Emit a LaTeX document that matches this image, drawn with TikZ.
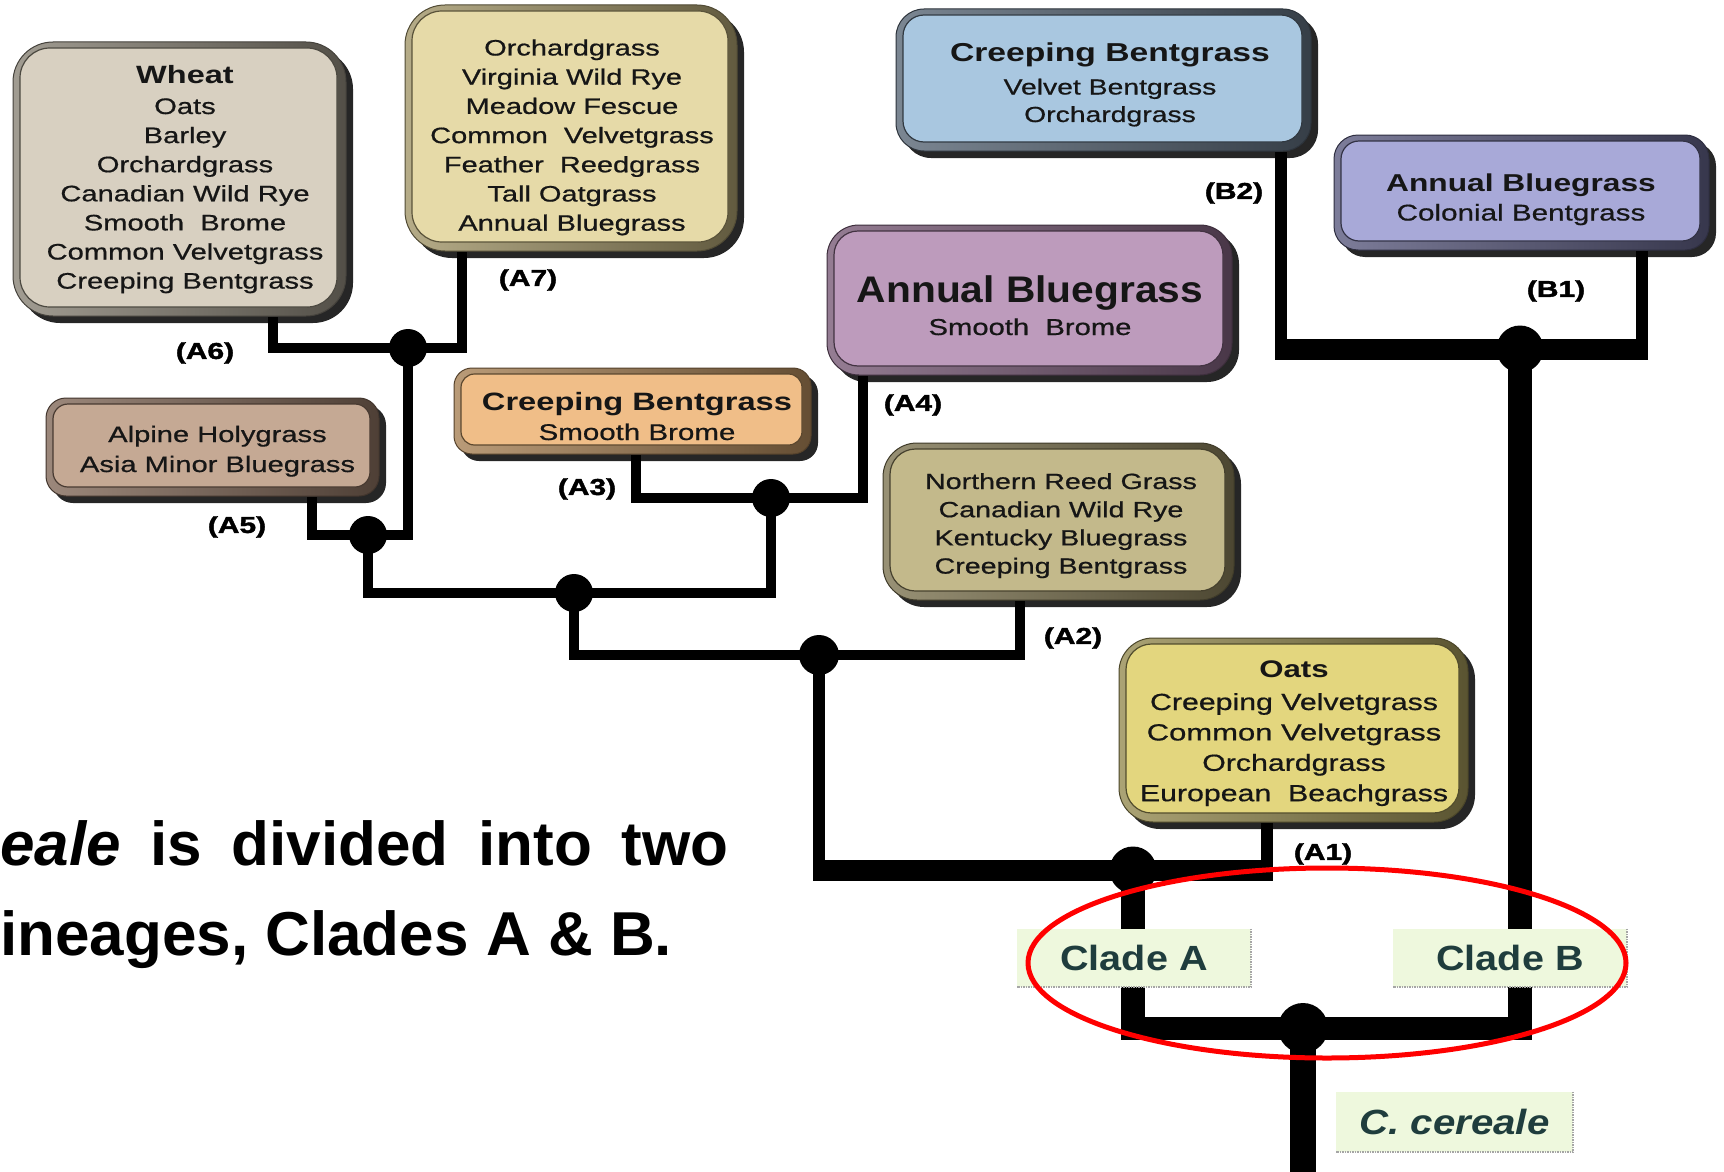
\documentclass[tikz,border=0pt]{standalone}
\usepackage{fontspec}
\setmainfont{Liberation Sans}
\newfontfamily\itemfont[FakeBold=0.6]{Liberation Sans}
\newfontfamily\tagfont[FakeBold=1.6]{Liberation Sans Bold}
\usepackage{graphicx}
\usetikzlibrary{shadows}

% box faces (F) and rims (R)
\definecolor{ink}{HTML}{161616}
\definecolor{wheatF}{HTML}{D8D0C1}\definecolor{wheatR}{HTML}{8A8477}
\definecolor{a7F}{HTML}{E6DAA8}\definecolor{a7R}{HTML}{A3976A}
\definecolor{b2F}{HTML}{A9C7E0}\definecolor{b2R}{HTML}{5A6877}
\definecolor{b1F}{HTML}{A8A9D8}\definecolor{b1R}{HTML}{5C5C80}
\definecolor{a4F}{HTML}{BD9BBC}\definecolor{a4R}{HTML}{7A5C78}
\definecolor{a3F}{HTML}{F0BE88}\definecolor{a3R}{HTML}{A88256}
\definecolor{a5F}{HTML}{C5A994}\definecolor{a5R}{HTML}{836A5A}
\definecolor{a2F}{HTML}{C3B98B}\definecolor{a2R}{HTML}{7F7653}
\definecolor{a1F}{HTML}{E3D67E}\definecolor{a1R}{HTML}{968C52}
\definecolor{cladeBg}{HTML}{EEF8DD}
\definecolor{cladeInk}{HTML}{1F3D3D}

\pgfdeclarelayer{bg}
\pgfsetlayers{bg,main}

% one line of a box: horizontal stretch, size, text
\newcommand\hdr[3]{\scalebox{#1}[1]{\fontsize{#2}{#2}\selectfont\bfseries #3}}
\newcommand\itm[3]{\scalebox{#1}[1]{\itemfont\fontsize{#2}{#2}\selectfont #3}}
% a centred stack of lines with a fixed pitch
\newcommand\rows[2]{\fontsize{10}{#1}\selectfont\begin{tabular}[t]{@{}c@{}}#2\end{tabular}}
\newcommand\sx[2]{\scalebox{#1}[1]{#2}}

\tikzset{
  plate/.style n args={5}{
    rectangle, inner sep=0pt, rounded corners=#5,
    minimum width=#3, minimum height=#4,
    draw=#2!50!black, line width=1pt,
    left color=#2!80!white, right color=#2!60!black,
    drop shadow={shadow xshift=7pt, shadow yshift=-7pt, fill=black, opacity=0.85},
    path picture={
      \path[fill=#1, draw=#2!55!black, line width=1.2pt, rounded corners=0.75*#5]
        ([xshift=7pt, yshift=-6pt]path picture bounding box.north west)
        rectangle ([xshift=-9pt, yshift=9pt]path picture bounding box.south east);
    },
  },
  txt/.style={anchor=base, inner sep=0pt, text=ink},
  lab/.style={inner sep=0pt, text=black, font=\tagfont\fontsize{23}{23}\selectfont},
  jdot/.style={circle, fill=black, inner sep=0pt, minimum size=#1},
  twig/.style={line width=10pt, line join=miter},
  limb/.style={line width=12pt},
  bough/.style={line width=21pt},
  trunk/.style={line width=24pt},
  trunkh/.style={line width=23pt},
  stemline/.style={line width=26pt},
  clade/.style={fill=cladeBg, inner sep=0pt, minimum width=234pt, minimum height=58pt,
    text=cladeInk, font=\bfseries\fontsize{35}{35}\selectfont},
  cladeedge/.style={densely dotted, gray!70, line width=1.5pt},
  caption/.style={anchor=base west, inner sep=0pt, text=black,
    font=\bfseries\fontsize{62}{62}\selectfont},
}

\begin{document}
\begin{tikzpicture}[x=1pt, y=-1pt]
\useasboundingbox (0,0) rectangle (1724,1172);

% ---- boxes ----
\node[plate={wheatF}{wheatR}{333pt}{274pt}{40pt}] (wheat) at (179.5,179) {};
\node[plate={a7F}{a7R}{332pt}{246pt}{40pt}] (a7) at (571,128) {};
\node[plate={b2F}{b2R}{415pt}{142pt}{28pt}] (b2) at (1103.5,80) {};
\node[plate={b1F}{b1R}{375pt}{115pt}{24pt}] (b1) at (1521.5,192.5) {};
\node[plate={a4F}{a4R}{405pt}{150pt}{32pt}] (a4) at (1029.5,300) {};
\node[plate={a3F}{a3R}{357pt}{86pt}{18pt}] (a3) at (632.5,411) {};
\node[plate={a5F}{a5R}{333pt}{98pt}{20pt}] (a5) at (212.5,447) {};
\node[plate={a2F}{a2R}{351pt}{157pt}{34pt}] (a2) at (1058.5,521.5) {};
\node[plate={a1F}{a1R}{349pt}{184pt}{34pt}] (a1) at (1293.5,730) {};

% ---- box texts ----
\node[txt] (wheatT) at (185,83) {\rows{29.1pt}{%
  \hdr{1.3}{25}{Wheat}\\[1.9pt]
  \itm{1.3}{22.4}{Oats}\\
  \itm{1.3}{22.4}{Barley}\\
  \itm{1.3}{22.4}{Orchardgrass}\\
  \itm{1.3}{22.4}{Canadian Wild Rye}\\
  \itm{1.3}{22.4}{Smooth\ \ Brome}\\
  \itm{1.3}{22.4}{Common Velvetgrass}\\
  \itm{1.3}{22.4}{Creeping Bentgrass}}};

\node[txt] (a7T) at (572,55.5) {\rows{29.2pt}{%
  \itm{1.3}{22.3}{Orchardgrass}\\
  \itm{1.3}{22.3}{Virginia Wild Rye}\\
  \itm{1.3}{22.3}{Meadow Fescue}\\
  \itm{1.3}{22.3}{Common\ \ Velvetgrass}\\
  \itm{1.3}{22.3}{Feather\ \ Reedgrass}\\
  \itm{1.3}{22.3}{Tall Oatgrass}\\
  \itm{1.3}{22.3}{Annual Bluegrass}}};

\node[txt] (b2T) at (1110,62) {\rows{27.5pt}{%
  \hdr{1.3}{25.9}{Creeping Bentgrass}\\[5pt]
  \itm{1.3}{21.8}{Velvet Bentgrass}\\
  \itm{1.3}{21.8}{Orchardgrass}}};

\node[txt] (b1T) at (1521,191) {\rows{29.5pt}{%
  \hdr{1.3}{24.4}{Annual Bluegrass}\\
  \itm{1.3}{22.8}{Colonial Bentgrass}}};

\node[txt] (a4T) at (1030,302) {\rows{33pt}{%
  \hdr{1.1}{37}{Annual Bluegrass}\\
  \itm{1.27}{23}{Smooth\ \ Brome}}};

\node[txt] (a3T) at (637,410) {\rows{30pt}{%
  \hdr{1.3}{25.1}{Creeping Bentgrass}\\
  \itm{1.3}{22.7}{Smooth Brome}}};

\node[txt] (a5T) at (217.5,442) {\rows{30pt}{%
  \itm{1.3}{22.4}{Alpine Holygrass}\\
  \itm{1.3}{22.4}{Asia Minor Bluegrass}}};

\node[txt] (a2T) at (1061,489) {\rows{28.2pt}{%
  \itm{1.3}{22}{Northern Reed Grass}\\
  \itm{1.3}{22}{Canadian Wild Rye}\\
  \itm{1.3}{22}{Kentucky Bluegrass}\\
  \itm{1.3}{22}{Creeping Bentgrass}}};

\node[txt] (a1T) at (1294,677) {\rows{30.4pt}{%
  \hdr{1.3}{24}{Oats}\\[2.6pt]
  \itm{1.3}{23.3}{Creeping Velvetgrass}\\
  \itm{1.33}{23.3}{Common Velvetgrass}\\
  \itm{1.3}{23.3}{Orchardgrass}\\
  \itm{1.3}{23.3}{European\ \ Beachgrass}}};

% ---- junctions ----
\node[jdot=38pt] (d67) at (408,348) {};
\node[jdot=38pt] (d567) at (368,535) {};
\node[jdot=38pt] (d34) at (771,498) {};
\node[jdot=38pt] (d37) at (574,593) {};
\node[jdot=40pt] (d2) at (819,655) {};
\node[jdot=47pt] (da1) at (1133,870) {};
\node[jdot=47pt] (db) at (1520,349) {};
\node[jdot=50pt] (root) at (1303,1028) {};

\coordinate (a1foot) at ([xshift=-26.9pt]a1.south);
\coordinate (b2foot) at ([xshift=177.5pt]b2.south);
\coordinate (b1foot) at ([xshift=120.1pt]b1.south);
\coordinate (stem) at (1303,1172);

% ---- branches ----
\begin{pgfonlayer}{bg}
\fill[white] (0,0) rectangle (1724,1172);
\draw[twig] ([xshift=93.2pt]wheat.south) |- (d67.center) -| ([xshift=-109.2pt]a7.south);
\draw[twig] ([xshift=99.8pt]a5.south) |- (d567.center) -| (d67.center);
\draw[twig] (d567.center) |- (d37.center) -| (d34.center);
\draw[twig] ([xshift=3pt]a3.south) |- (d34.center) -| ([xshift=-166.5pt]a4.south);
\draw[twig] (d37.center) |- (d2.center) -| ([xshift=-38.5pt]a2.south);

\draw[limb] (d2.center) -- (d2.center |- da1.center);
\draw[limb] (a1foot) -- (a1foot |- da1.center);
\draw[bough, shorten <=-6pt, shorten >=-6pt] (d2.center |- da1.center) -- (a1foot |- da1.center);

\draw[limb] (b2foot) -- (b2foot |- db.center);
\draw[limb] (b1foot) -- (b1foot |- db.center);
\draw[bough, shorten <=-6pt, shorten >=-6pt] (b2foot |- db.center) -- (b1foot |- db.center);

\draw[trunk] (da1.center) -- (da1.center |- root.center);
\draw[trunk] (db.center) -- (db.center |- root.center);
\draw[trunkh, shorten <=-12pt, shorten >=-12pt] (da1.center |- root.center) -- (db.center |- root.center);
\draw[stemline] (root.center) -- (stem);
\end{pgfonlayer}

% ---- branch labels ----
\node[lab] (tA6) at (205,353) {\sx{1.3}{(A6)}};
\node[lab] (tA7) at (528,280) {\sx{1.3}{(A7)}};
\node[lab] (tB2) at (1234,193) {\sx{1.3}{(B2)}};
\node[lab] (tB1) at (1556,291) {\sx{1.3}{(B1)}};
\node[lab] (tA4) at (913,405) {\sx{1.3}{(A4)}};
\node[lab] (tA3) at (587,489) {\sx{1.3}{(A3)}};
\node[lab] (tA5) at (237,527) {\sx{1.3}{(A5)}};
\node[lab] (tA2) at (1073,638) {\sx{1.3}{(A2)}};
\node[lab] (tA1) at (1323,854) {\sx{1.3}{(A1)}};

% ---- clade tags ----
\node[clade] (cladeA) at (1134,958) {\sx{1.13}{Clade A}};
\node[clade] (cladeB) at (1510,958) {\sx{1.13}{Clade B}};
\node[clade, minimum width=237pt, minimum height=60pt] (cer) at (1454.5,1122) {\sx{1.15}{\itshape C. cereale}};
\draw[cladeedge] (cladeA.north east) -- (cladeA.south east) -- (cladeA.south west);
\draw[cladeedge] (cladeB.north east) -- (cladeB.south east) -- (cladeB.south west);
\draw[cladeedge] (cer.north east) -- (cer.south east) -- (cer.south west);

% ---- caption ----
\node[caption] (lineOne) at (0,865) {\makebox[728pt][s]{\textit{eale} is divided into two}};
\node[caption] (lineTwo) at (0,955) {ineages, Clades A \& B.};

% ---- highlight ----
\draw[red, line width=5pt] (1327,963) ellipse [x radius=299pt, y radius=95pt];
\end{tikzpicture}
\end{document}
